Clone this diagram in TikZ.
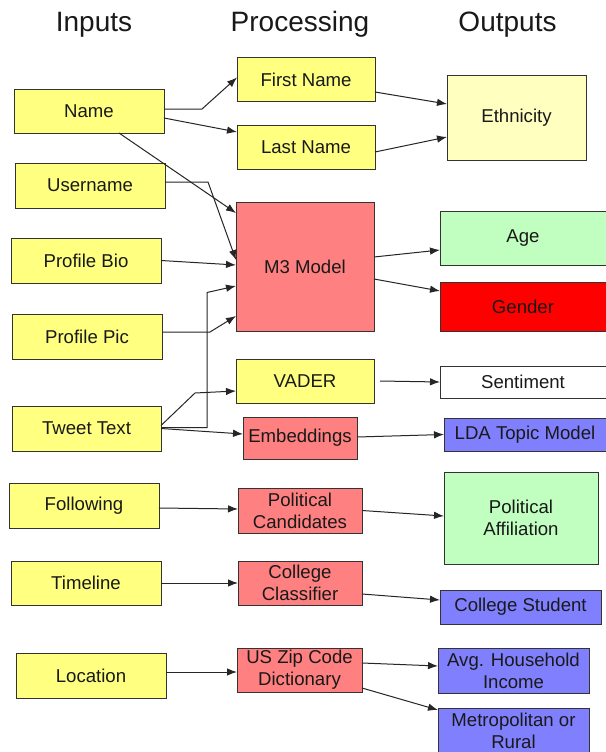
\documentclass[tikz,border=0pt]{standalone}
\usepackage{fontspec}
\setmainfont{Liberation Sans}
\usetikzlibrary{arrows.meta,calc}
\definecolor{inyellow}{HTML}{FFFF80}
\definecolor{salmon}{HTML}{FF8080}
\definecolor{paleyellow}{HTML}{FFFFC0}
\definecolor{palegreen}{HTML}{C0FFC0}
\definecolor{purpleblue}{HTML}{8080FF}
\definecolor{boxline}{HTML}{333333}
\tikzset{
  box/.style={draw=boxline, line width=1pt, inner sep=0pt, outer sep=0pt,
    align=center, font=\fontsize{18.6}{22}\selectfont, text=black!90},
  inbox/.style={box, fill=inyellow, minimum width=150pt, minimum height=45pt},
  procbox/.style={box, fill=salmon},
  header/.style={font=\fontsize{28}{32}\selectfont, anchor=base, text=black!90},
  conn/.style={draw=black!85, line width=1pt, -{Latex[length=10pt,width=7.5pt]}},
}
\begin{document}
\begin{tikzpicture}[x=1pt,y=-1pt]
\useasboundingbox[fill=white] (0,0) rectangle (605,752);

% headers
\node[header] (hin) at (94,32) {Inputs};
\node[header] (hproc) at (300,32) {Processing};
\node[header] (hout) at (507.5,32) {Outputs};

% inputs
\node[inbox, minimum height=44pt] (name) at (89,111) {Name};
\node[inbox] (user) at (90,185.5) {Username};
\node[inbox] (bio) at (86,260.5) {Profile Bio};
\node[inbox] (pic) at (87,336.5) {Profile Pic};
\node[inbox, minimum width=149pt] (tweet) at (86.5,428.5) {Tweet Text};
\node[inbox] (follow) at (84,505.5) {Following};
\node[inbox, minimum height=44pt] (timeline) at (86,583) {Timeline};
\node[inbox] (loc) at (91,675.5) {Location};

% processing
\node[box, fill=inyellow, minimum width=138pt, minimum height=43pt] (first) at (306,79.5) {First Name};
\node[box, fill=inyellow, minimum width=138pt, minimum height=44pt] (last) at (306,147) {Last Name};
\node[procbox, minimum width=138pt, minimum height=129pt] (m3) at (305,266.5) {M3 Model};
\node[box, fill=inyellow, minimum width=138pt, minimum height=44pt] (vader) at (305,381) {VADER};
\node[procbox, minimum width=114pt, minimum height=42pt] (emb) at (300,438) {Embeddings};
\node[procbox, minimum width=124pt, minimum height=45pt] (polcand) at (300,510.5) {Political\\Candidates};
\node[procbox, minimum width=124pt, minimum height=44pt] (cc) at (300,583) {College\\Classifier};
\node[procbox, minimum width=125pt, minimum height=44pt] (zip) at (299.5,670) {US Zip Code\\Dictionary};

% outputs
\node[box, fill=paleyellow, minimum width=139pt, minimum height=85pt] (eth) at (516.5,117.5) {Ethnicity};
\node[box, fill=palegreen, minimum width=166pt, minimum height=54pt] (age) at (523,238) {Age};
\node[box, fill=red, minimum width=166pt, minimum height=49pt] (gender) at (523,306.5) {Gender};
\node[box, fill=white, minimum width=166pt, minimum height=32pt] (sent) at (523,382) {Sentiment};
\node[box, fill=purpleblue, minimum width=162pt, minimum height=33pt] (lda) at (525,434.5) {LDA Topic Model};
\node[box, fill=palegreen, minimum width=154pt, minimum height=92pt] (polaff) at (521,518) {Political\\Affiliation};
\node[box, fill=purpleblue, minimum width=161pt, minimum height=34pt] (cs) at (520.5,607) {College Student};
\node[box, fill=purpleblue, minimum width=151pt, minimum height=45pt] (avg) at (513.5,670.5) {Avg. Household\\Income};
\node[box, fill=purpleblue, minimum width=151pt, minimum height=46pt] (metro) at (513.5,731) {Metropolitan or\\Rural};

% connectors
\draw[conn] ([yshift=2pt]name.east) -- ++(38,0) -- ([yshift=2pt]first.west);
\draw[conn] ([yshift=-7pt]name.east) -- ([yshift=15pt]last.west);
\draw[conn] ([xshift=30pt]name.south) -- ([yshift=53.5pt]m3.west);
\draw[conn] ([yshift=3.5pt]user.east) -- ++(43,0) -- ([yshift=6.5pt]m3.west);
\draw[conn] (bio.east) -- ([yshift=1.5pt]m3.west);
\draw[conn] ([yshift=4.5pt]pic.east) -- ++(48,0) -- ([yshift=-49.5pt]m3.west);
\draw[conn] ([yshift=1pt]tweet.east) -- ++(46,0) -- ++(0,-135) -- ([yshift=-19.5pt]m3.west);
\draw[conn] ([yshift=3pt]tweet.east) -- ++(34,-32.5) -- ([yshift=-10pt]vader.west);
\draw[conn] (tweet.east) -- ([yshift=4pt]emb.west);

\draw[conn] ([yshift=-12.5pt]first.east) -- ([yshift=13.5pt]eth.west);
\draw[conn] ([yshift=-5pt]last.east) -- ([yshift=-19.5pt]eth.west);
\draw[conn] ([yshift=9.5pt]m3.east) -- ([yshift=-12pt]age.west);
\draw[conn] ([yshift=-12.5pt]m3.east) -- ([yshift=15.5pt]gender.west);
\draw[conn] ([xshift=6pt]vader.east) -- (sent.west);
\draw[conn] ([yshift=1pt]emb.east) -- (lda.west);

\draw[conn] ([yshift=-2.5pt]follow.east) -- ([yshift=1.5pt]polcand.west);
\draw[conn] (timeline.east) -- (cc.west);
\draw[conn] ([yshift=3.5pt]loc.east) -- ([yshift=-2pt]zip.west);

\draw[conn] (polcand.east) -- ([yshift=2pt]polaff.west);
\draw[conn] ([yshift=-11pt]cc.east) -- ([yshift=7pt]cs.west);
\draw[conn] ([yshift=7pt]zip.east) -- ([yshift=4.5pt]avg.west);
\draw[conn] ([yshift=-18pt]zip.east) -- ([yshift=-2pt]metro.north west);
\end{tikzpicture}
\end{document}
